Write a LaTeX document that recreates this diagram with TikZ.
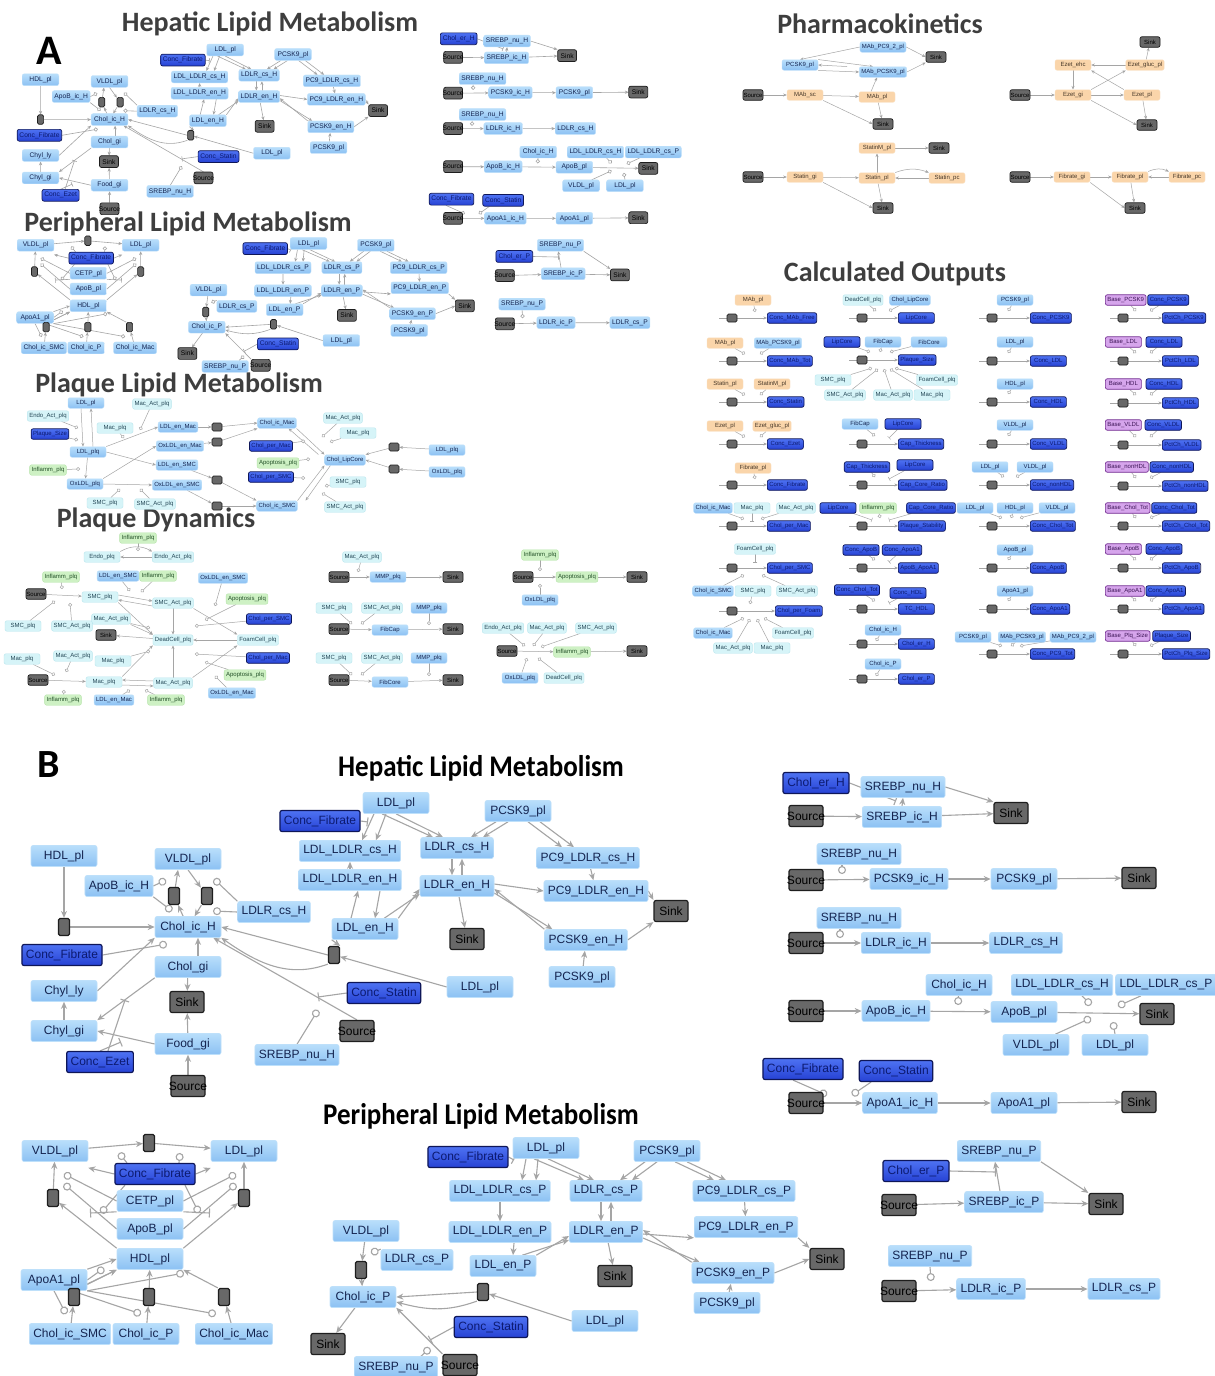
\documentclass[tikz,border=0pt]{standalone}
\usepackage{fontspec}
\setmainfont{Liberation Sans}
\newfontfamily\ttlfont{Carlito}
\usepackage{graphicx}
\usetikzlibrary{arrows.meta}
\pgfdeclarelayer{bg}
\pgfsetlayers{bg,main}
\definecolor{spF}{RGB}{158,206,246}
\definecolor{spTop}{RGB}{184,222,251}
\definecolor{spBot}{RGB}{140,193,243}
\definecolor{spD}{RGB}{190,224,250}
\definecolor{spT}{RGB}{20,36,80}
\definecolor{ccTop}{RGB}{78,114,242}
\definecolor{ccBot}{RGB}{38,66,212}
\definecolor{ccD}{RGB}{14,22,88}
\definecolor{ccT}{RGB}{12,26,112}
\definecolor{gsF}{RGB}{104,104,104}
\definecolor{gsD}{RGB}{30,30,30}
\definecolor{orF}{RGB}{250,213,170}
\definecolor{orD}{RGB}{250,225,195}
\definecolor{orT}{RGB}{70,55,40}
\definecolor{cyF}{RGB}{214,244,248}
\definecolor{cyD}{RGB}{185,230,238}
\definecolor{cyT}{RGB}{35,70,85}
\definecolor{gnF}{RGB}{206,241,196}
\definecolor{gnD}{RGB}{182,228,170}
\definecolor{gnT}{RGB}{35,80,40}
\definecolor{puF}{RGB}{214,165,236}
\definecolor{puD}{RGB}{115,45,145}
\definecolor{puT}{RGB}{60,20,85}
\definecolor{edg}{RGB}{165,165,165}
\definecolor{ttl}{RGB}{62,62,62}
\def\nFS{12}\def\nHT{21pt}\def\nXS{4pt}\def\nLW{0.6pt}\def\cLW{1.2pt}
\def\spW{66pt}\def\gsW{34pt}\def\srcW{26pt}\def\tnW{11pt}\def\tnH{17pt}
\def\eLW{1.1pt}\def\eTL{7pt}\def\eTW{6pt}\def\eCD{8pt}\def\eBW{9pt}
\tikzset{
 nb/.style={rounded corners=2pt, font=\fontsize{\nFS}{\nFS}\selectfont, minimum height=\nHT, minimum width=\spW, inner xsep=\nXS, inner ysep=0.5pt, line width=\nLW},
 sp/.style={nb, top color=spTop, bottom color=spBot, draw=spD, text=spT},
 cc/.style={nb, top color=ccTop, bottom color=ccBot, draw=ccD, text=ccT, line width=\cLW},
 gs/.style={nb, fill=gsF, draw=gsD, text=black, minimum width=\gsW, line width=\cLW},
 org/.style={nb, fill=orF, draw=orD, text=orT},
 cy/.style={nb, fill=cyF, draw=cyD, text=cyT},
 gn/.style={nb, fill=gnF, draw=gnD, text=gnT},
 pu/.style={nb, fill=puF, draw=puD, text=puT, line width=\cLW},
 tn/.style={rounded corners=1.5pt, fill=gsF, draw=gsD, line width=\cLW, minimum width=\tnW, minimum height=\tnH, inner sep=0pt},
 ln/.style={draw=edg, line width=\eLW},
 ar/.style={ln, -{Stealth[length=\eTL, width=\eTW]}},
 md/.style={ln, -{Circle[length=\eCD, width=\eCD, fill=white]}},
 ih/.style={ln, -{Bar[width=\eBW]}},
 ttlA/.style={font=\ttlfont\bfseries\fontsize{28}{30}\selectfont, text=ttl, inner sep=0pt},
 ttlB/.style={font=\ttlfont\bfseries\fontsize{30}{32}\selectfont, text=black, inner sep=0pt},
}
\newcommand\mdl[3]{\coordinate (#3) at (#2); \draw[md] (#1) -- (#3);}
\newcommand\ihl[3]{\coordinate (#3) at (#2); \draw[ih] (#1) -- (#3);}
\newcommand\SRC{\makebox[\srcW][c]{Source}}
\newcommand\co[6]{\node[tn] (#1t) at (#3,#2) {}; \coordinate (#1s) at (#3-13,#2); \node[#6,anchor=west] (#1o) at (#4,#2) {#5};}
\newcommand\cl[1]{\draw[ln] (#1s) -- (#1t); \draw[ar] (#1t) -- (#1o);}
\newcommand\lipnet{%
\node[sp] (hHDL) at (64,856) {HDL\_pl};
\node[sp] (hVLDL) at (188,859) {VLDL\_pl};
\node[sp] (hApoB) at (119,886) {ApoB\_ic\_H};
\node[tn] (ht2) at (174,896) {};
\node[tn] (ht3) at (207,896) {};
\node[sp] (hLDLRcs) at (274,912) {LDLR\_cs\_H};
\node[tn] (ht1) at (64,927) {};
\node[sp] (hChol) at (188,927) {Chol\_ic\_H};
\node[cc] (hFib) at (62,955) {Conc\_Fibrate};
\node[sp] (hCholgi) at (188,967) {Chol\_gi};
\node[gs] (hSink1) at (187,1002) {Sink};
\node[sp] (hChylly) at (64,991) {Chyl\_ly};
\node[sp] (hChylgi) at (64,1031) {Chyl\_gi};
\node[sp] (hFood) at (188,1044) {Food\_gi};
\node[cc] (hEzet) at (100,1062) {Conc\_Ezet};
\node[gs] (hSrc1) at (188,1086) {\SRC};
\node[sp] (hLDLpl) at (396,803) {LDL\_pl};
\node[cc] (hFib2) at (320,821) {Conc\_Fibrate};
\node[sp] (hPCSK9) at (518,811) {PCSK9\_pl};
\node[sp] (hLLcs) at (350,851) {LDL\_LDLR\_cs\_H};
\node[sp] (hLRcs) at (457,848) {LDLR\_cs\_H};
\node[sp] (hPCcs) at (588,858) {PC9\_LDLR\_cs\_H};
\node[sp] (hLLen) at (350,880) {LDL\_LDLR\_en\_H};
\node[sp] (hLRen) at (457,886) {LDLR\_en\_H};
\node[sp] (hPCen) at (596,891) {PC9\_LDLR\_en\_H};
\node[gs] (hSink2) at (671,911) {Sink};
\node[sp] (hLDLen) at (365,929) {LDL\_en\_H};
\node[gs] (hSink3) at (467,939) {Sink};
\node[sp] (hPCSKen) at (586,940) {PCSK9\_en\_H};
\node[tn] (ht4) at (334,955) {};
\node[sp] (hPCSK9b) at (582,977) {PCSK9\_pl};
\node[sp] (hLDLpl2) at (480,987) {LDL\_pl};
\node[cc] (hStatin) at (384,993) {Conc\_Statin};
\node[gs] (hSrc2) at (357,1031) {\SRC};
\node[sp] (hSREBP) at (297,1055) {SREBP\_nu\_H};
\node[cc] (rCholer) at (816,783) {Chol\_er\_H};
\node[sp] (rNu1) at (903,787) {SREBP\_nu\_H};
\node[gs] (rSrc1) at (806,816) {\SRC};
\node[sp] (rIc1) at (902,817) {SREBP\_ic\_H};
\node[gs] (rSink1) at (1011,813) {Sink};
\node[sp] (rNu2) at (859,854) {SREBP\_nu\_H};
\node[gs] (rSrc2) at (806,880) {\SRC};
\node[sp] (rPCSKic) at (909,879) {PCSK9\_ic\_H};
\node[sp] (rPCSKpl) at (1024,879) {PCSK9\_pl};
\node[gs] (rSink2) at (1139,878) {Sink};
\node[sp] (rNu3) at (859,918) {SREBP\_nu\_H};
\node[gs] (rSrc3) at (806,943) {\SRC};
\node[sp] (rLDLRic) at (896,943) {LDLR\_ic\_H};
\node[sp] (rLDLRcs) at (1026,943) {LDLR\_cs\_H};
\node[sp] (rCholic) at (959,985) {Chol\_ic\_H};
\node[sp] (rLLcsH) at (1062,985) {LDL\_LDLR\_cs\_H};
\node[sp] (rLLcsP) at (1166,985) {LDL\_LDLR\_cs\_P};
\node[gs] (rSrc4) at (806,1011) {\SRC};
\node[sp] (rApoBic) at (896,1011) {ApoB\_ic\_H};
\node[sp] (rApoBpl) at (1024,1012) {ApoB\_pl};
\node[gs] (rSink4) at (1157,1014) {Sink};
\node[sp] (rVLDL) at (1036,1045) {VLDL\_pl};
\node[sp] (rLDL) at (1115,1045) {LDL\_pl};
\node[cc] (rFib) at (803,1069) {Conc\_Fibrate};
\node[cc] (rStat) at (896,1071) {Conc\_Statin};
\node[gs] (rSrc5) at (806,1103) {\SRC};
\node[sp] (rApoAic) at (900,1103) {ApoA1\_ic\_H};
\node[sp] (rApoApl) at (1024,1103) {ApoA1\_pl};
\node[gs] (rSink5) at (1139,1102) {Sink};
\node[sp] (plVLDL) at (55,1151) {VLDL\_pl};
\node[tn] (plT1) at (149,1143) {};
\node[sp] (plLDL) at (244,1151) {LDL\_pl};
\node[cc] (plFib) at (155,1174) {Conc\_Fibrate};
\node[tn] (plT2) at (53,1198) {};
\node[tn] (plT3) at (244,1198) {};
\node[sp] (plCETP) at (150,1201) {CETP\_pl};
\node[sp] (plApoB) at (150,1229) {ApoB\_pl};
\node[sp] (plHDL) at (150,1259) {HDL\_pl};
\node[sp] (plApoA1) at (54,1280) {ApoA1\_pl};
\node[tn] (plT4) at (74,1297) {};
\node[tn] (plT5) at (149,1297) {};
\node[tn] (plT6) at (224,1297) {};
\node[sp] (plSMC) at (70,1334) {Chol\_ic\_SMC};
\node[sp] (plP) at (146,1334) {Chol\_ic\_P};
\node[sp] (plMac) at (234,1334) {Chol\_ic\_Mac};
\node[cc] (pmFib) at (468,1157) {Conc\_Fibrate};
\node[sp] (pmLDL) at (546,1148) {LDL\_pl};
\node[sp] (pmPCSK9) at (667,1151) {PCSK9\_pl};
\node[sp] (pmLLcs) at (500,1191) {LDL\_LDLR\_cs\_P};
\node[sp] (pmLRcs) at (606,1191) {LDLR\_cs\_P};
\node[sp] (pmPCcs) at (744,1191) {PC9\_LDLR\_cs\_P};
\node[sp] (pmVLDL) at (366,1231) {VLDL\_pl};
\node[sp] (pmLLen) at (500,1232) {LDL\_LDLR\_en\_P};
\node[sp] (pmLRen) at (606,1232) {LDLR\_en\_P};
\node[sp] (pmPCen) at (746,1227) {PC9\_LDLR\_en\_P};
\node[sp] (pmLRcs2) at (417,1260) {LDLR\_cs\_P};
\node[tn] (pmT1) at (361,1270) {};
\node[sp] (pmLDLen) at (503,1266) {LDL\_en\_P};
\node[gs] (pmSink1) at (615,1276) {Sink};
\node[gs] (pmSink2) at (827,1259) {Sink};
\node[sp] (pmPCSKen) at (733,1273) {PCSK9\_en\_P};
\node[tn] (pmT2) at (483,1292) {};
\node[sp] (pmChol) at (363,1297) {Chol\_ic\_P};
\node[sp] (pmPCSK9b) at (727,1303) {PCSK9\_pl};
\node[sp] (pmLDL2) at (605,1321) {LDL\_pl};
\node[cc] (pmStat) at (491,1327) {Conc\_Statin};
\node[gs] (pmSink3) at (328,1344) {Sink};
\node[sp] (pmSREBP) at (396,1367) {SREBP\_nu\_P};
\node[gs] (pmSrc) at (460,1365) {\SRC};
\node[sp] (prNu1) at (999,1151) {SREBP\_nu\_P};
\node[cc] (prCholer) at (916,1171) {Chol\_er\_P};
\node[gs] (prSrc1) at (899,1205) {\SRC};
\node[sp] (prIc) at (1004,1202) {SREBP\_ic\_P};
\node[gs] (prSink) at (1106,1204) {Sink};
\node[sp] (prNu2) at (930,1256) {SREBP\_nu\_P};
\node[gs] (prSrc2) at (899,1291) {\SRC};
\node[sp] (prLDLRic) at (991,1289) {LDLR\_ic\_P};
\node[sp] (prLDLRcs) at (1124,1289) {LDLR\_cs\_P};
\begin{pgfonlayer}{bg}
\draw[ar] (hHDL) -- (ht1);
\draw[ar] (ht1) -- (hChol);
\draw[ar] (ht2) -- ([xshift=-10pt]hVLDL.south);
\mdl{hApoB.east}{166,880}{hm1}
\draw[ar] (hVLDL.south) -- (ht3);
\mdl{hLDLRcs.north west}{214,879}{hm2}
\draw[ar] (ht3) -- (hChol);
\draw[ar] (hChol) -- (ht2);
\mdl{hApoB.south east}{172,911}{hm3}
\mdl{hLDLRcs.west}{213,911}{hm3b}
\mdl{hFib.east}{167,944}{hm4}
\draw[ar] (hChylly.east) -- (hChol.south west);
\draw[ar] ([xshift=10pt]hCholgi.north) -- ([xshift=10pt]hChol.south);
\draw[ar] (hCholgi.south west) -- (hChylgi.north east);
\draw[ar] (hCholgi) -- (hSink1);
\draw[ar] (hFood) -- (hSink1);
\draw[ar] (hSrc1) -- (hFood);
\draw[ar] (hFood.west) -- (hChylgi.east);
\ihl{hEzet.north}{121,1042}{hi1}
\ihl{[xshift=8pt]hEzet.north}{125,1000}{hi2}
\draw[ar] (hChylgi) -- (hChylly);
\draw[ar] (hLDLpl2.west) -- (ht4);
\draw[ar] (ht4.west) -- (hChol.east);
\draw[ar] (ht4.south west) to[out=200,in=-35] (hChol.south east);
\draw[ar] (hLDLen.south west) -- (ht4.north east);
\draw[ar] (hSrc2.north) -- ([xshift=-8pt]hChol.south east);
\ihl{hStatin.west}{318,997}{hi3}
\mdl{hSREBP.north}{318,1010}{hm5}
\ihl{hFib2.east}{368,822}{hi4}
\draw[ar] ([xshift=-22pt]hLDLpl.south) -- ([xshift=12pt]hLLcs.north);
\draw[ar] ([xshift=-10pt]hLDLpl.south) -- ([xshift=26pt]hLLcs.north);
\draw[ar] ([xshift=-14pt]hLDLpl.south) -- ([xshift=-24pt]hLRcs.north);
\draw[ar] (hLDLpl.south) -- ([xshift=-14pt]hLRcs.north);
\draw[ar] ([xshift=-22pt]hPCSK9.south) -- ([xshift=14pt]hLRcs.north);
\draw[ar] ([xshift=-10pt]hPCSK9.south) -- ([xshift=26pt]hLRcs.north);
\draw[ar] ([xshift=10pt]hPCSK9.south) -- ([xshift=-26pt]hPCcs.north);
\draw[ar] ([xshift=22pt]hPCSK9.south) -- ([xshift=-14pt]hPCcs.north);
\draw[ar] (hPCcs) -- (hPCen);
\draw[ar] ([xshift=-5pt]hLRcs.south) -- ([xshift=-5pt]hLRen.north);
\draw[ar] ([xshift=5pt]hLRen.north) -- ([xshift=5pt]hLRcs.south);
\draw[ar] (hLLen) -- (hLLcs);
\draw[ar] (hLDLen.north east) -- ([yshift=-3pt]hLRen.west);
\draw[ar] ([xshift=-14pt]hLDLen.north east) -- ([yshift=-8pt]hLRen.west);
\draw[ar] ([xshift=-14pt]hLDLen.north) -- ([xshift=8pt]hLLen.south);
\draw[ar] ([xshift=30pt]hLLen.south) -- ([xshift=10pt]hLDLen.north);
\draw[ar] (hLRen) -- (hSink3);
\draw[ar] ([yshift=2pt]hLRen.east) -- (hPCen.west);
\draw[ar] (hPCSKen.north west) -- ([yshift=-3pt]hLRen.east);
\draw[ar] ([yshift=-7pt]hLRen.east) -- ([xshift=8pt]hPCSKen.north west);
\draw[ar] (hPCen.east) -- (hSink2.north west);
\draw[ar] (hPCSKen.east) -- (hSink2.south west);
\draw[ar] (hPCSK9b) -- (hPCSKen);
\draw[ar] (rSrc1) -- (rIc1);
\draw[ar] (rIc1) -- (rSink1);
\draw[ar] (rNu1.east) -- (rSink1.north west);
\draw[ar] (rIc1.north) -- (rNu1.south);
\ihl{rCholer.east}{896,801}{ri1}
\draw[ar] (rSrc2) -- (rPCSKic);
\mdl{[xshift=-17pt]rNu2.south}{842,874}{rm2}
\draw[ar] (rPCSKic) -- (rPCSKpl);
\draw[ar] (rPCSKpl) -- (rSink2);
\draw[ar] (rSrc3) -- (rLDLRic);
\mdl{[xshift=-19pt]rNu3.south}{840,938}{rm3}
\draw[ar] (rLDLRic) -- (rLDLRcs);
\draw[ar] (rSrc4) -- (rApoBic);
\draw[ar] (rApoBic) -- (rApoBpl);
\draw[ar] (rApoBpl) -- (rSink4);
\mdl{rCholic}{958,1005}{rm4}
\mdl{[xshift=20pt]rLLcsH.south}{1091,1005}{rm5}
\mdl{[xshift=-25pt]rLLcsP.south}{1118,1006}{rm6}
\mdl{[xshift=-14pt]rVLDL.north east}{1091,1018}{rm7}
\mdl{rLDL.north}{1113,1022}{rm8}
\draw[ar] (rSrc5) -- (rApoAic);
\draw[ar] (rApoAic) -- (rApoApl);
\draw[ar] (rApoApl) -- (rSink5);
\mdl{[xshift=-10pt]rFib.south}{827,1095}{rm9}
\mdl{[xshift=-25pt]rStat.south}{852,1095}{rm10}
\draw[ar] (plVLDL) -- (plT1);
\draw[ar] (plT1) -- (plLDL);
\mdl{[xshift=-28pt]plFib.north}{119,1153}{plm1}
\mdl{[xshift=24pt]plFib.north}{180,1153}{plm2}
\draw[ar] (plFib.west) -- ([yshift=-6pt]plVLDL.south east);
\draw[ar] (plFib.east) -- ([yshift=-6pt]plLDL.south west);
\draw[ar] (plT2) -- (plVLDL);
\draw[ar] (plT3) -- (plLDL);
\draw[ar] (plHDL.north west) -- (plT2);
\draw[ar] (plHDL.north east) -- (plT3);
\mdl{plCETP.west}{64,1174}{plm3}
\mdl{plApoB.west}{64,1184}{plm4}
\mdl{plCETP.east}{236,1174}{plm5}
\mdl{plApoB.east}{236,1184}{plm6}
\mdl{[xshift=-30pt]plFib.south}{101,1213}{plm7}
\mdl{[xshift=30pt]plFib.south}{199,1213}{plm8}
\ihl{plCETP.south west}{90,1213}{pli1}
\ihl{plCETP.south east}{210,1213}{pli2}
\draw[ar] (plApoA1.north east) -- (plHDL.west);
\draw[ar] ([yshift=-4pt]plApoA1.east) -- (plHDL.south west);
\draw[ar] (plSMC) -- (plT4);
\draw[ar] (plP) -- (plT5);
\draw[ar] (plMac) -- (plT6);
\draw[ar] (plT4.north east) -- (plHDL.south west);
\draw[ar] (plT5) -- (plHDL);
\draw[ar] (plT6.north west) -- (plHDL.south east);
\mdl{plApoA1.east}{104,1268}{plm9}
\mdl{plApoA1.south east}{184,1273}{plm10}
\mdl{plApoA1.south}{66,1314}{plm11}
\mdl{[xshift=18pt]plApoA1.south}{141,1314}{plm12}
\mdl{plApoA1.south east}{216,1314}{plm13}
\ihl{pmFib.east}{514,1160}{pmi1}
\draw[ar] ([xshift=-20pt]pmLDL.south) -- ([xshift=22pt]pmLLcs.north);
\draw[ar] ([xshift=-8pt]pmLDL.south) -- ([xshift=36pt]pmLLcs.north);
\draw[ar] ([xshift=-12pt]pmLDL.south) -- ([xshift=-22pt]pmLRcs.north);
\draw[ar] ([xshift=2pt]pmLDL.south) -- ([xshift=-12pt]pmLRcs.north);
\draw[ar] ([xshift=-22pt]pmPCSK9.south) -- ([xshift=14pt]pmLRcs.north);
\draw[ar] ([xshift=-10pt]pmPCSK9.south) -- ([xshift=26pt]pmLRcs.north);
\draw[ar] ([xshift=8pt]pmPCSK9.south) -- ([xshift=-30pt]pmPCcs.north);
\draw[ar] ([xshift=20pt]pmPCSK9.south) -- ([xshift=-18pt]pmPCcs.north);
\draw[ar] (pmLLcs) -- (pmLLen);
\draw[ar] ([xshift=-5pt]pmLRcs.south) -- ([xshift=-5pt]pmLRen.north);
\draw[ar] ([xshift=5pt]pmLRen.north) -- ([xshift=5pt]pmLRcs.south);
\draw[ar] (pmPCcs) -- (pmPCen);
\draw[ar] (pmLDLen.north east) -- ([yshift=-4pt]pmLRen.west);
\draw[ar] ([xshift=-14pt]pmLDLen.north east) -- ([yshift=-8pt]pmLRen.west);
\draw[ar] ([xshift=14pt]pmLLen.south) -- ([xshift=10pt]pmLDLen.north);
\draw[ar] (pmLRen) -- (pmSink1);
\draw[ar] (pmPCSKen.north west) -- ([yshift=2pt]pmLRen.east);
\draw[ar] ([yshift=-6pt]pmLRen.east) -- ([xshift=8pt]pmPCSKen.north west);
\draw[ar] ([yshift=-2pt]pmLRen.east) -- (pmPCen.south west);
\draw[ar] (pmPCen.south east) -- (pmSink2.north west);
\draw[ar] (pmPCSKen.east) -- (pmSink2.west);
\draw[ar] (pmPCSK9b) -- (pmPCSKen);
\draw[ar] (pmVLDL) -- (pmT1);
\mdl{pmLRcs2.north west}{371,1253}{pmm1}
\draw[ar] (pmT1) -- (pmChol);
\draw[ar] (pmLDL2.west) -- (pmT2);
\draw[ar] (pmT2.west) -- (pmChol.east);
\draw[ar] (pmT2.south west) to[out=200,in=-15] ([yshift=-5pt]pmChol.east);
\draw[ar] (pmChol) -- (pmSink3);
\draw[ar] (pmSrc.north west) -- (pmChol.south east);
\ihl{pmStat.west}{430,1340}{pmi2}
\mdl{[xshift=25pt]pmSREBP.north}{430,1348}{pmm2}
\draw[ar] (prSrc1) -- (prIc);
\draw[ar] (prIc) -- (prSink);
\draw[ar] (prNu1.south east) -- (prSink.north west);
\draw[ar] ([xshift=-4pt]prIc.north) -- ([xshift=-4pt]prNu1.south);
\ihl{prCholer.east}{996,1172}{pri1}
\draw[ar] (prSrc2) -- (prLDLRic);
\mdl{prNu2.south}{931,1281}{prm1}
\draw[ar] (prLDLRic) -- (prLDLRcs);
\end{pgfonlayer}
}
\begin{document}
\begin{tikzpicture}[x=1pt,y=-1pt]
\begin{pgfonlayer}{bg}
\fill[white] (0,0) rectangle (1215,1376);
\end{pgfonlayer}
\useasboundingbox (0,0) rectangle (1215,1376);
% ===== Panel B =====
\lipnet
\node[font=\ttlfont\bfseries\fontsize{40}{42}\selectfont, inner sep=0pt] (lblB) at (49,765) {B};
\node[ttlB] (tB1) at (481,768) {\scalebox{0.9}[1]{Hepatic Lipid Metabolism}};
\node[ttlB] (tB2) at (481,1116) {\scalebox{0.9}[1]{Peripheral Lipid Metabolism}};
% ===== Panel A: reduced copy =====
\begin{scope}[shift={(5,-400.5)}, xscale=0.556, yscale=0.561, transform shape, name prefix=A-]
\def\eLW{0.6pt}\def\eTL{3.8pt}\def\eTW{3.2pt}\def\eCD{4.2pt}\def\eBW{5pt}\def\cLW{0.7pt}\def\nLW{0.4pt}
\lipnet
\end{scope}
\node[font=\ttlfont\bfseries\fontsize{42}{44}\selectfont, inner sep=0pt] (lblA) at (49,51) {A};
\node[ttlA] (tA1) at (270,24) {Hepatic Lipid Metabolism};
\node[ttlA] (tA2) at (880,24) {Pharmacokinetics};
\node[ttlA] (tA3) at (188,224) {Peripheral Lipid Metabolism};
\node[ttlA] (tA4) at (895,274) {Calculated Outputs};
\node[ttlA] (tA5) at (179,385) {Plaque Lipid Metabolism};
\node[ttlA] (tA6) at (156,520) {Plaque Dynamics};
\begin{scope}
\def\nFS{6}\def\nHT{10.5pt}\def\nXS{2pt}\def\nLW{0.4pt}\def\cLW{0.7pt}
\def\spW{36pt}\def\gsW{20pt}\def\srcW{12pt}\def\tnW{10pt}\def\tnH{8pt}
\def\eLW{0.5pt}\def\eTL{3.6pt}\def\eTW{3pt}\def\eCD{3.8pt}\def\eBW{4.5pt}
% ---- Pharmacokinetics
\node[sp] (kMP2) at (883,47) {MAb\_PC9\_2\_pl};
\node[gs] (kS1) at (936,57) {Sink};
\node[sp] (kPC) at (800,65) {PCSK9\_pl};
\node[sp] (kMPC) at (883,72) {MAb\_PCSK9\_pl};
\node[gs] (kSrc1) at (753,95) {\SRC};
\node[org] (kMsc) at (805,95) {MAb\_sc};
\node[org] (kMpl) at (877,97) {MAb\_pl};
\node[gs] (kS2) at (883,124) {Sink};
\node[org] (kSM) at (877,148) {StatinM\_pl};
\node[gs] (kS3) at (939,148) {Sink};
\node[gs] (kSrc2) at (753,177) {\SRC};
\node[org] (kSgi) at (805,177) {Statin\_gi};
\node[org] (kSpl) at (877,178) {Statin\_pl};
\node[org] (kSpc) at (947,178) {Statin\_pc};
\node[gs] (kS4) at (883,208) {Sink};
\node[gs] (kS5) at (1150,42) {Sink};
\node[org] (kEehc) at (1073,65) {Ezet\_ehc};
\node[org] (kEgl) at (1145,65) {Ezet\_gluc\_pl};
\node[gs] (kSrc3) at (1020,95) {\SRC};
\node[org] (kEgi) at (1073,95) {Ezet\_gi};
\node[org] (kEpl) at (1142,95) {Ezet\_pl};
\node[gs] (kS6) at (1147,125) {Sink};
\node[gs] (kSrc4) at (1020,177) {\SRC};
\node[org] (kFgi) at (1072,177) {Fibrate\_gi};
\node[org] (kFpl) at (1130,177) {Fibrate\_pl};
\node[org] (kFpc) at (1187,177) {Fibrate\_pc};
\node[gs] (kS7) at (1135,208) {Sink};
% ---- Calculated outputs
\node[org] (o1a) at (753,300) {MAb\_pl};
\co{p1a}{318}{732}{767}{Conc\_MAb\_Free}{cc}
\node[org] (o1b1) at (725,343) {MAb\_pl};
\node[sp] (o1b2) at (778,343) {MAb\_PCSK9\_pl};
\co{p1b}{361}{732}{767}{Conc\_MAb\_Tot}{cc}
\node[org] (o1c1) at (725,384) {Statin\_pl};
\node[org] (o1c2) at (772,384) {StatinM\_pl};
\co{p1c}{402}{732}{767}{Conc\_Statin}{cc}
\node[org] (o1d1) at (725,426) {Ezet\_pl};
\node[org] (o1d2) at (772,426) {Ezet\_gluc\_pl};
\co{p1d}{444}{732}{767}{Conc\_Ezet}{cc}
\node[org] (o1e) at (753,468) {Fibrate\_pl};
\co{p1e}{485}{732}{767}{Conc\_Fibrate}{cc}
\node[sp] (o1f1) at (713,508) {Chol\_ic\_Mac};
\node[cy] (o1f2) at (752,508) {Mac\_plq};
\node[cy] (o1f3) at (796,508) {Mac\_Act\_plq};
\co{p1f}{526}{732}{767}{Chol\_per\_Mac}{cc}
\node[cy] (o1g) at (755,549) {FoamCell\_plq};
\co{p1g}{568}{732}{767}{Chol\_per\_SMC}{cc}
\node[sp] (o1h1) at (713,591) {Chol\_ic\_SMC};
\node[cy] (o1h2) at (753,591) {SMC\_plq};
\node[cy] (o1h3) at (797,591) {SMC\_Act\_plq};
\co{p1h}{611}{732}{775}{Chol\_per\_Foam}{cc}
\node[sp] (o1i1) at (713,633) {Chol\_ic\_Mac};
\node[cy] (o1i2) at (793,633) {FoamCell\_plq};
\node[cy] (o1i3) at (733,648) {Mac\_Act\_plq};
\node[cy] (o1i4) at (772,648) {Mac\_plq};
\node[cy] (o2a1) at (863,300) {DeadCell\_plq};
\node[sp] (o2a2) at (910,300) {Chol\_LipCore};
\co{p2a}{318}{862}{898}{LipCore}{cc}
\node[cc] (o2b1) at (842,342) {LipCore};
\node[sp] (o2b2) at (883,342) {FibCap};
\node[sp] (o2b3) at (929,342) {FibCore};
\co{p2b}{360}{862}{898}{Plaque\_Size}{cc}
\node[cy] (o2b4) at (833,380) {SMC\_plq};
\node[cy] (o2b5) at (937,380) {FoamCell\_plq};
\node[cy] (o2b6) at (845,395) {SMC\_Act\_plq};
\node[cy] (o2b7) at (893,395) {Mac\_Act\_plq};
\node[cy] (o2b8) at (932,395) {Mac\_plq};
\node[sp] (o2c1) at (860,424) {FibCap};
\node[cc] (o2c2) at (903,424) {LipCore};
\co{p2c}{444}{862}{898}{Cap\_Thickness}{cc}
\node[cc] (o2d1) at (867,467) {Cap\_Thickness};
\node[cc] (o2d2) at (915,465) {LipCore};
\co{p2d}{485}{862}{898}{Cap\_Core\_Ratio}{cc}
\node[cc] (o2e1) at (838,508) {LipCore};
\node[gn] (o2e2) at (878,508) {Inflamm\_plq};
\node[cc] (o2e3) at (931,508) {Cap\_Core\_Ratio};
\co{p2e}{526}{862}{898}{Plaque\_Stability}{cc}
\node[cc] (o2f1) at (861,550) {Conc\_ApoB};
\node[cc] (o2f2) at (902,550) {Conc\_ApoA1};
\co{p2f}{568}{862}{898}{ApoB\_ApoA1}{cc}
\node[cc] (o2g1) at (857,590) {Conc\_Chol\_Tot};
\node[cc] (o2g2) at (908,593) {Conc\_HDL};
\co{p2g}{609}{862}{898}{TC\_HDL}{cc}
\node[sp] (o2h) at (883,630) {Chol\_ic\_H};
\co{p2h}{644}{862}{898}{Chol\_er\_H}{cc}
\node[sp] (o2i) at (883,664) {Chol\_ic\_P};
\co{p2i}{679}{862}{898}{Chol\_er\_P}{cc}
\node[sp] (o3a) at (1015,300) {PCSK9\_pl};
\co{p3a}{318}{992}{1030}{Conc\_PCSK9}{cc}
\node[sp] (o3b) at (1015,342) {LDL\_pl};
\co{p3b}{361}{992}{1030}{Conc\_LDL}{cc}
\node[sp] (o3c) at (1015,384) {HDL\_pl};
\co{p3c}{402}{992}{1030}{Conc\_HDL}{cc}
\node[sp] (o3d) at (1015,425) {VLDL\_pl};
\co{p3d}{444}{992}{1030}{Conc\_VLDL}{cc}
\node[sp] (o3e1) at (990,467) {LDL\_pl};
\node[sp] (o3e2) at (1035,467) {VLDL\_pl};
\co{p3e}{485}{992}{1030}{Conc\_nonHDL}{cc}
\node[sp] (o3f1) at (975,508) {LDL\_pl};
\node[sp] (o3f2) at (1015,508) {HDL\_pl};
\node[sp] (o3f3) at (1057,508) {VLDL\_pl};
\co{p3f}{526}{992}{1030}{Conc\_Chol\_Tot}{cc}
\node[sp] (o3g) at (1015,550) {ApoB\_pl};
\co{p3g}{568}{992}{1030}{Conc\_ApoB}{cc}
\node[sp] (o3h) at (1015,591) {ApoA1\_pl};
\co{p3h}{609}{992}{1030}{Conc\_ApoA1}{cc}
\node[sp] (o3i1) at (973,637) {PCSK9\_pl};
\node[sp] (o3i2) at (1022,637) {MAb\_PCSK9\_pl};
\node[sp] (o3i3) at (1073,637) {MAb\_PC9\_2\_pl};
\co{p3i}{654}{992}{1030}{Conc\_PC9\_Tot}{cc}
\node[pu,anchor=west] (o4a1) at (1105,300) {Base\_PCSK9};
\node[cc,anchor=west] (o4a2) at ([xshift=1pt]o4a1.east) {Conc\_PCSK9};
\co{p4a}{318}{1123}{1162}{PctCh\_PCSK9}{cc}
\node[pu,anchor=west] (o4b1) at (1105,342) {Base\_LDL};
\node[cc,anchor=west] (o4b2) at ([xshift=4pt]o4b1.east) {Conc\_LDL};
\co{p4b}{361}{1123}{1162}{PctCh\_LDL}{cc}
\node[pu,anchor=west] (o4c1) at (1105,384) {Base\_HDL};
\node[cc,anchor=west] (o4c2) at ([xshift=4pt]o4c1.east) {Conc\_HDL};
\co{p4c}{403}{1123}{1162}{PctCh\_HDL}{cc}
\node[pu,anchor=west] (o4d1) at (1105,425) {Base\_VLDL};
\node[cc,anchor=west] (o4d2) at ([xshift=3pt]o4d1.east) {Conc\_VLDL};
\co{p4d}{445}{1123}{1162}{PctCh\_VLDL}{cc}
\node[pu,anchor=west] (o4e1) at (1105,467) {Base\_nonHDL};
\node[cc,anchor=west] (o4e2) at ([xshift=1pt]o4e1.east) {Conc\_nonHDL};
\co{p4e}{486}{1123}{1162}{PctCh\_nonHDL}{cc}
\node[pu,anchor=west] (o4f1) at (1105,508) {Base\_Chol\_Tot};
\node[cc,anchor=west] (o4f2) at ([xshift=1pt]o4f1.east) {Conc\_Chol\_Tot};
\co{p4f}{526}{1123}{1162}{PctCh\_Chol\_Tot}{cc}
\node[pu,anchor=west] (o4g1) at (1105,549) {Base\_ApoB};
\node[cc,anchor=west] (o4g2) at ([xshift=4pt]o4g1.east) {Conc\_ApoB};
\co{p4g}{568}{1123}{1162}{PctCh\_ApoB}{cc}
\node[pu,anchor=west] (o4h1) at (1105,591) {Base\_ApoA1};
\node[cc,anchor=west] (o4h2) at ([xshift=1pt]o4h1.east) {Conc\_ApoA1};
\co{p4h}{609}{1123}{1162}{PctCh\_ApoA1}{cc}
\node[pu,anchor=west] (o4i1) at (1105,636) {Base\_Plq\_Size};
\node[cc,anchor=west] (o4i2) at ([xshift=2pt]o4i1.east) {Plaque\_Size};
\co{p4i}{654}{1123}{1162}{PctCh\_Plq\_Size}{cc}
% ---- Plaque lipid metabolism
\node[sp] (qLDLpl) at (86,403) {LDL\_pl};
\node[cy] (qMA1) at (152,404) {Mac\_Act\_plq};
\node[cy] (qEA) at (48,416) {Endo\_Act\_plq};
\node[cy] (qM1) at (115,428) {Mac\_plq};
\node[sp] (qLeM) at (178,427) {LDL\_en\_Mac};
\node[tn] (qt1) at (217,427) {};
\node[sp] (qCiM) at (277,423) {Chol\_ic\_Mac};
\node[cy] (qMA2) at (343,418) {Mac\_Act\_plq};
\node[cy] (qM2) at (358,433) {Mac\_plq};
\node[cc] (qPS) at (50,434) {Plaque\_Size};
\node[sp] (qOeM) at (180,446) {OxLDL\_en\_Mac};
\node[tn] (qt2) at (217,442) {};
\node[cc] (qCpM) at (271,446) {Chol\_per\_Mac};
\node[sp] (qLDLplq) at (88,452) {LDL\_plq};
\node[sp] (qCLC) at (345,460) {Chol\_LipCore};
\node[tn] (qt3) at (394,447) {};
\node[sp] (qLDLplq2) at (447,450) {LDL\_plq};
\node[sp] (qLeS) at (177,465) {LDL\_en\_SMC};
\node[gn] (qApo) at (278,463) {Apoptosis\_plq};
\node[gn] (qInf) at (48,470) {Inflamm\_plq};
\node[tn] (qt4) at (394,469) {};
\node[sp] (qOx2) at (447,472) {OxLDL\_plq};
\node[tn] (qt5) at (217,480) {};
\node[cc] (qCpS) at (271,477) {Chol\_per\_SMC};
\node[cy] (qS2) at (348,482) {SMC\_plq};
\node[sp] (qOx) at (85,484) {OxLDL\_plq};
\node[sp] (qOeS) at (177,485) {OxLDL\_en\_SMC};
\node[cy] (qS1) at (105,503) {SMC\_plq};
\node[cy] (qSA1) at (155,504) {SMC\_Act\_plq};
\node[tn] (qt6) at (217,506) {};
\node[sp] (qCiS) at (277,506) {Chol\_ic\_SMC};
\node[cy] (qSA2) at (345,507) {SMC\_Act\_plq};
% ---- Plaque dynamics
\node[gn] (dI0) at (138,538) {Inflamm\_plq};
\node[cy] (dE) at (102,557) {Endo\_plq};
\node[cy] (dEA) at (173,557) {Endo\_Act\_plq};
\node[gn] (dI1) at (61,577) {Inflamm\_plq};
\node[sp] (dLeS) at (118,576) {LDL\_en\_SMC};
\node[gn] (dI2) at (158,576) {Inflamm\_plq};
\node[sp] (dOeS) at (223,578) {OxLDL\_en\_SMC};
\node[gs] (dSrc1) at (36,594) {\SRC};
\node[cy] (dS) at (100,597) {SMC\_plq};
\node[cy] (dSA) at (173,603) {SMC\_Act\_plq};
\node[gn] (dAp1) at (247,599) {Apoptosis\_plq};
\node[cy] (dMA1) at (111,619) {Mac\_Act\_plq};
\node[cc] (dCpS) at (269,619) {Chol\_per\_SMC};
\node[cy] (dS2) at (23,626) {SMC\_plq};
\node[cy] (dSA2) at (72,626) {SMC\_Act\_plq};
\node[gs] (dSink) at (106,635) {Sink};
\node[cy] (dDC) at (173,640) {DeadCell\_plq};
\node[cy] (dFC) at (258,640) {FoamCell\_plq};
\node[cy] (dM1) at (22,659) {Mac\_plq};
\node[cy] (dMA2) at (73,656) {Mac\_Act\_plq};
\node[cy] (dM2) at (113,661) {Mac\_plq};
\node[cc] (dCpM) at (268,658) {Chol\_per\_Mac};
\node[gs] (dSrc2) at (38,680) {\SRC};
\node[cy] (dM) at (104,682) {Mac\_plq};
\node[cy] (dMA) at (173,683) {Mac\_Act\_plq};
\node[gn] (dAp2) at (245,675) {Apoptosis\_plq};
\node[sp] (dOeM) at (232,693) {OxLDL\_en\_Mac};
\node[gn] (dI3) at (63,700) {Inflamm\_plq};
\node[sp] (dLeM) at (114,700) {LDL\_en\_Mac};
\node[gn] (dI4) at (166,700) {Inflamm\_plq};
\node[cy] (eMA) at (362,557) {Mac\_Act\_plq};
\node[gs] (eSrc1) at (339,577) {\SRC};
\node[sp] (eMMP) at (388,577) {MMP\_plq};
\node[gs] (eSk1) at (453,577) {Sink};
\node[cy] (eS1) at (334,608) {SMC\_plq};
\node[cy] (eSA1) at (382,608) {SMC\_Act\_plq};
\node[sp] (eMMP1) at (429,608) {MMP\_plq};
\node[gs] (eSrc2) at (339,629) {\SRC};
\node[sp] (eFC) at (390,630) {FibCap};
\node[gs] (eSk2) at (453,629) {Sink};
\node[cy] (eS2) at (334,658) {SMC\_plq};
\node[cy] (eSA2) at (382,658) {SMC\_Act\_plq};
\node[sp] (eMMP2) at (429,658) {MMP\_plq};
\node[gs] (eSrc3) at (339,680) {\SRC};
\node[sp] (eFCo) at (390,682) {FibCore};
\node[gs] (eSk3) at (453,680) {Sink};
\node[gn] (fI) at (540,555) {Inflamm\_plq};
\node[gs] (fSrc1) at (523,577) {\SRC};
\node[gn] (fAp) at (577,577) {Apoptosis\_plq};
\node[gs] (fSk1) at (637,577) {Sink};
\node[sp] (fOx) at (540,600) {OxLDL\_plq};
\node[cy] (fEA) at (503,628) {Endo\_Act\_plq};
\node[cy] (fMA) at (547,628) {Mac\_Act\_plq};
\node[cy] (fSA) at (596,628) {SMC\_Act\_plq};
\node[gs] (fSrc2) at (507,651) {\SRC};
\node[gn] (fI2) at (572,652) {Inflamm\_plq};
\node[gs] (fSk2) at (637,651) {Sink};
\node[sp] (fOx2) at (520,678) {OxLDL\_plq};
\node[cy] (fDC) at (564,678) {DeadCell\_plq};
\begin{pgfonlayer}{bg}
% PK edges
\draw[ar] (kSrc1) -- (kMsc);
\draw[ar] (kMsc) -- (kMpl);
\draw[ar] (kMsc.south east) -- (kS2.west);
\draw[ar] (kMpl) -- (kS2);
\draw[ar] (kPC.south east) -- (kMPC.west);
\draw[ar] ([xshift=-6pt]kMpl.north) -- ([xshift=-6pt]kMPC.south);
\draw[ar] ([xshift=-12pt]kMPC.north west) -- (kPC.east);
\draw[ar] (kPC.north east) -- ([xshift=-10pt]kMPC.north);
\draw[ar] (kMP2.west) -- (kPC.north);
\draw[ar] (kMP2.east) -- (kS1.west);
\draw[ar] (kMPC.east) -- (kS1.south west);
\draw[ar] (kSrc2) -- (kSgi);
\draw[ar] (kSgi) -- (kSpl);
\draw[ar] (kSgi.south east) -- (kS4.west);
\draw[ar] (kSpl) -- (kS4);
\draw[ar] (kSpl) -- (kSM);
\draw[ar] (kSM) -- (kS3);
\draw[ar] (kSpl.north east) to[out=20,in=160] (kSpc.north west);
\draw[ar] (kSpc.west) -- (kSpl.east);
\draw[ar] (kSrc3) -- (kEgi);
\draw[ar] (kEgi) -- (kEpl);
\draw[ar] (kEgi.south east) -- (kS6.west);
\draw[ar] (kEpl) -- (kS6);
\draw[ar] (kEgi.north east) -- (kEgl.south west);
\draw[ar] (kEpl.north west) -- (kEehc.south east);
\draw[ar] (kEgl) -- (kEehc);
\draw[ar] (kEehc) -- (kEgi);
\draw[ar] (kEgl) -- (kS5);
\draw[ar] (kSrc4) -- (kFgi);
\draw[ar] (kFgi) -- (kFpl);
\draw[ar] (kFgi.south east) -- (kS7.west);
\draw[ar] (kFpl) -- (kS7);
\draw[ar] (kFpl.north east) to[out=25,in=155] (kFpc.north west);
\draw[ar] (kFpc.west) -- (kFpl.east);
% outputs edges
\cl{p1a}\cl{p1b}\cl{p1c}\cl{p1d}\cl{p1e}\cl{p1f}\cl{p1g}\cl{p1h}
\cl{p2a}\cl{p2b}\cl{p2c}\cl{p2d}\cl{p2e}\cl{p2f}\cl{p2g}\cl{p2h}\cl{p2i}
\cl{p3a}\cl{p3b}\cl{p3c}\cl{p3d}\cl{p3e}\cl{p3f}\cl{p3g}\cl{p3h}\cl{p3i}
\cl{p4a}\cl{p4b}\cl{p4c}\cl{p4d}\cl{p4e}\cl{p4f}\cl{p4g}\cl{p4h}\cl{p4i}
\mdl{o1a}{755,312}{m1a}
\mdl{o1b1}{745,354}{m1b1}\mdl{o1b2}{760,354}{m1b2}
\mdl{o1c1}{745,395}{m1c1}\mdl{o1c2}{760,395}{m1c2}
\mdl{o1d1}{745,437}{m1d1}\mdl{o1d2}{760,437}{m1d2}
\mdl{o1e}{755,479}{m1e}
\mdl{o1f1}{744,519}{m1f1}\ihl{o1f2}{752,521}{m1f2}\mdl{o1f3}{761,519}{m1f3}
\ihl{o1g}{755,562}{m1g}
\mdl{o1h1}{744,575}{m1g2}\mdl{o1h3}{762,575}{m1g3}
\mdl{o1h2}{750,604}{m1h2}
\mdl{o1i1}{744,618}{m1h3}\mdl{o1i3}{750,619}{m1h4}\mdl{o1i4}{757,619}{m1h5}\mdl{o1i2}{764,618}{m1h6}
\mdl{o2a1}{876,311}{m2a1}\mdl{o2a2}{889,311}{m2a2}
\mdl{o2b1}{870,352}{m2b1}\mdl{o2b2}{880,352}{m2b2}\mdl{o2b3}{890,352}{m2b3}
\mdl{o2b4}{872,368}{m2b4}\mdl{o2b6}{878,369}{m2b6}\mdl{o2b7}{884,369}{m2b7}\mdl{o2b8}{890,369}{m2b8}\mdl{o2b5}{895,368}{m2b5}
\mdl{o2c1}{875,436}{m2c1}\ihl{o2c2}{889,438}{m2c2}
\mdl{o2d1}{875,477}{m2d1}\ihl{o2d2}{889,479}{m2d2}
\ihl{o2e1}{872,520}{m2e1}\mdl{o2e2}{880,518}{m2e2}\ihl{o2e3}{889,520}{m2e3}
\mdl{o2f1}{875,560}{m2f1}\ihl{o2f2}{889,562}{m2f2}
\mdl{o2g1}{875,601}{m2g1}\ihl{o2g2}{889,603}{m2g2}
\mdl{o2h}{876,641}{m2h}
\mdl{o2i}{876,676}{m2i}
\mdl{o3a}{1008,311}{m3a}\mdl{o3b}{1008,353}{m3b}\mdl{o3c}{1008,394}{m3c}\mdl{o3d}{1008,436}{m3d}
\mdl{o3e1}{1004,477}{m3e1}\mdl{o3e2}{1016,477}{m3e2}
\mdl{o3f1}{1002,518}{m3f1}\mdl{o3f2}{1011,518}{m3f2}\mdl{o3f3}{1020,518}{m3f3}
\mdl{o3g}{1008,560}{m3g}\mdl{o3h}{1008,601}{m3h}
\mdl{o3i1}{1002,646}{m3i1}\mdl{o3i2}{1011,646}{m3i2}\mdl{o3i3}{1020,646}{m3i3}
\mdl{o4a1}{1136,311}{m4a1}\mdl{o4a2}{1150,311}{m4a2}
\mdl{o4b1}{1136,353}{m4b1}\mdl{o4b2}{1150,353}{m4b2}
\mdl{o4c1}{1136,395}{m4c1}\mdl{o4c2}{1150,395}{m4c2}
\mdl{o4d1}{1136,437}{m4d1}\mdl{o4d2}{1150,437}{m4d2}
\mdl{o4e1}{1136,478}{m4e1}\mdl{o4e2}{1150,478}{m4e2}
\mdl{o4f1}{1136,518}{m4f1}\mdl{o4f2}{1150,518}{m4f2}
\mdl{o4g1}{1136,560}{m4g1}\mdl{o4g2}{1150,560}{m4g2}
\mdl{o4h1}{1136,601}{m4h1}\mdl{o4h2}{1150,601}{m4h2}
\mdl{o4i1}{1136,646}{m4i1}\mdl{o4i2}{1150,646}{m4i2}
% plaque lipid edges
\draw[ar] ([xshift=-5pt]qLDLpl.south) -- ([xshift=-5pt]qLDLplq.north);
\draw[ar] ([xshift=5pt]qLDLplq.north) -- ([xshift=5pt]qLDLpl.south);
\mdl{qEA}{78,428}{qm1}\mdl{qPS}{78,440}{qm2}
\draw[ar] (qLDLplq.north east) -- (qLeM.west);
\mdl{qM1}{124,438}{qm3}\mdl{qMA1}{140,430}{qm4}
\draw[ar] (qLDLplq.east) -- (qLeS.west);
\draw[ar] (qLDLplq) -- (qOx);
\mdl{qInf}{80,469}{qm5}
\draw[ar] (qOx.north east) -- (qOeM.west);
\draw[ar] (qOx.east) -- (qOeS.west);
\mdl{qS1}{120,489}{qm6}\mdl{qSA1}{140,489}{qm7}
\draw[ar] (qLeM) -- (qt1);
\draw[ar] (qt1) -- (qCiM.west);
\draw[ar] (qOeM) -- (qt2);
\draw[ar] (qt2) -- (qCiM.south west);
\draw[ar] (qLeS) -- (qt5);
\draw[ar] (qt5) -- (qCiS.north west);
\draw[ar] (qOeS) -- (qt6);
\draw[ar] (qt6) -- (qCiS.west);
\draw[ar] (qCiM.south east) -- (qCLC.north west);
\draw[ar] ([xshift=-6pt]qCLC.north west) -- ([xshift=-8pt]qCiM.south east);
\draw[ar] (qCiS.north east) -- (qCLC.south west);
\draw[ar] ([xshift=6pt]qCLC.south west) -- ([xshift=8pt]qCiS.north east);
\mdl{qMA2}{322,437}{qm8}\mdl{qM2}{330,442}{qm9}\mdl{qCpM}{305,441}{qm10}\mdl{qApo}{310,459}{qm11}
\mdl{qCpS}{305,478}{qm12}\mdl{qS2}{325,486}{qm13}\mdl{qSA2}{322,493}{qm14}
\draw[ar] (qLDLplq2) -- (qt3);
\draw[ar] (qt3) -- (qCLC.north east);
\draw[ar] (qOx2) -- (qt4);
\draw[ar] (qt4) -- (qCLC.east);
% plaque dynamics edges
\draw[ar] (dE.north east) to[out=30,in=150] (dEA.north west);
\draw[ar] (dEA.west) -- (dE.east);
\mdl{dI0}{138,551}{dm1}
\draw[ar] (dSrc1) -- (dS);
\mdl{dS2}{55,601}{dm2}\mdl{dSA2}{70,603}{dm3}\mdl{dI1}{62,589}{dm4}
\draw[ar] ([yshift=2pt]dS.east) -- ([yshift=2pt]dSA.west);
\draw[ar] ([yshift=-3pt]dSA.west) -- ([yshift=-3pt]dS.east);
\mdl{dLeS}{130,591}{dm5}\mdl{dI2}{141,592}{dm6}
\draw[ar] (dS.south east) -- (dDC.north west);
\draw[ar] (dSA) -- (dDC);
\draw[ar] (dSA.south east) -- (dFC.north west);
\draw[ar] (dFC) -- (dDC);
\draw[ar] (dDC) -- (dSink);
\draw[ar] (dMA1.south east) -- (dDC.north west);
\draw[ar] (dSrc2) -- (dM);
\mdl{dM1}{55,675}{dm7}\mdl{dMA2}{66,672}{dm8}\mdl{dI3}{64,690}{dm9}
\draw[ar] ([yshift=2pt]dMA.west) -- ([yshift=2pt]dM.east);
\draw[ar] ([yshift=-3pt]dM.east) -- ([yshift=-3pt]dMA.west);
\mdl{dLeM}{130,690}{dm10}\mdl{dI4}{145,690}{dm11}
\draw[ar] (dM.north east) -- (dDC.south west);
\draw[ar] (dMA) -- (dDC);
\draw[ar] (dMA.north east) -- (dFC.south west);
\mdl{dCpS}{195,626}{dm12}\mdl{dCpM}{195,654}{dm13}\mdl{dAp1}{205,620}{dm14}\mdl{dAp2}{205,662}{dm15}
\mdl{dOeS}{215,606}{dm16}\mdl{dOeM}{215,676}{dm17}\mdl{dMA1}{150,628}{dm18}\mdl{dM2}{150,651}{dm19}
\draw[ar] (eSrc1) -- (eMMP);
\draw[ar] (eMMP) -- (eSk1);
\mdl{eMA}{358,572}{em1}
\draw[ar] (eSrc2) -- (eFC);
\draw[ar] (eFC) -- (eSk2);
\mdl{eS1}{352,624}{em2}\mdl{eSA1}{361,624}{em3}\mdl{eMMP1}{429,625}{em4}
\draw[ar] (eSrc3) -- (eFCo);
\draw[ar] (eFCo) -- (eSk3);
\mdl{eS2}{352,675}{em5}\mdl{eSA2}{361,675}{em6}\mdl{eMMP2}{429,676}{em7}
\draw[ar] (fSrc1) -- (fAp);
\draw[ar] (fAp) -- (fSk1);
\mdl{fI}{540,571}{fm1}\mdl{fOx}{540,584}{fm2}
\draw[ar] (fSrc2) -- (fI2);
\draw[ar] (fI2) -- (fSk2);
\mdl{fEA}{525,646}{fm3}\mdl{fMA}{533,646}{fm4}\mdl{fSA}{541,647}{fm5}
\mdl{fOx2}{527,658}{fm6}\mdl{fDC}{538,658}{fm7}
\end{pgfonlayer}
\end{scope}
\end{tikzpicture}
\end{document}
